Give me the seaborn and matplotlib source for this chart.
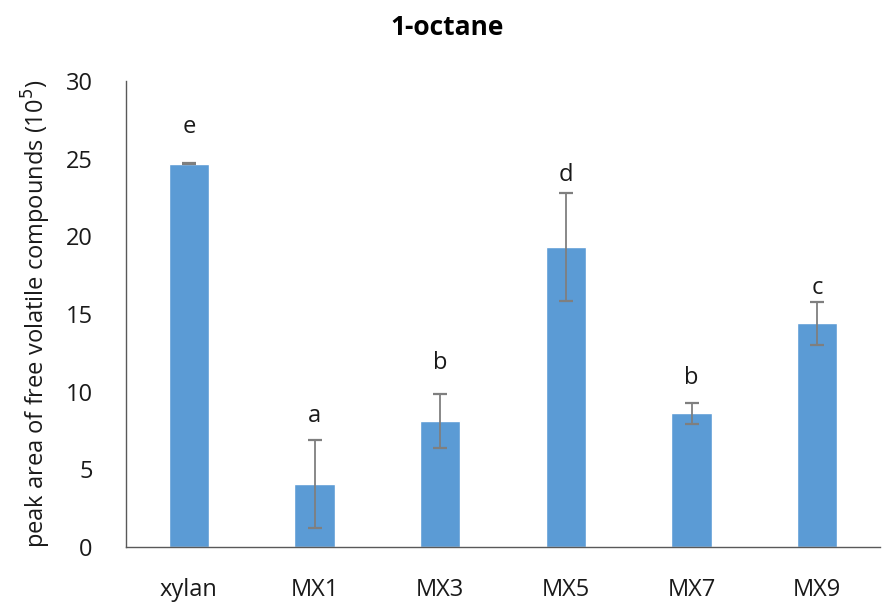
import matplotlib
matplotlib.use("Agg")
import matplotlib.pyplot as plt
import seaborn as sns
import pandas as pd
import numpy as np

categories = ["xylan", "MX1", "MX3", "MX5", "MX7", "MX9"]
values = [24.68, 4.07, 8.13, 19.32, 8.61, 14.40]
errors = [0.05, 2.84, 1.74, 3.49, 0.69, 1.39]
letters = ["e", "a", "b", "d", "b", "c"]
letter_offsets = [26, 17, 22, 13, 18, 10]  # points above error-bar top

sns.set_style("white")
plt.rcParams["font.family"] = ["Open Sans", "DejaVu Sans"]

df = pd.DataFrame({"cat": categories, "val": values})

fig = plt.figure(figsize=(8.83, 6.03), dpi=100)
ax = fig.add_axes([0.1427, 0.0929, 0.854, 0.7728])

sns.barplot(data=df, x="cat", y="val", color="#5B9BD5", width=0.32,
            saturation=1, errorbar=None, ax=ax)

x = np.arange(len(categories))
ax.errorbar(x, values, yerr=errors, fmt="none", ecolor="#7f7f7f",
            elinewidth=1.3, capsize=5, capthick=1.6, zorder=3)
for xi, v, e, l, off in zip(x, values, errors, letters, letter_offsets):
    ax.annotate(l, (xi, v + e), xytext=(0, off), textcoords="offset points",
                ha="center", va="center", fontsize=17, color="#1a1a1a")

ax.set_ylim(0, 30)
ax.set_xlim(-0.5, len(categories) - 0.5)
ax.set_yticks([0, 5, 10, 15, 20, 25, 30])
ax.tick_params(axis="y", length=0, labelsize=17, pad=24, labelcolor="#1a1a1a")
ax.tick_params(axis="x", length=0, labelsize=17, pad=22, labelcolor="#1a1a1a")
ax.set_xlabel("")
ax.set_ylabel("peak area of free volatile compounds (10$^5$)", fontsize=17,
              color="#1a1a1a", labelpad=9)
fig.text(0.506, 0.954, "1-octane", fontsize=19, fontweight="bold",
         ha="center", va="center", color="#000000")

for s in ["top", "right"]:
    ax.spines[s].set_visible(False)
for s in ["left", "bottom"]:
    ax.spines[s].set_color("#595959")
    ax.spines[s].set_linewidth(1.0)

fig.savefig("out.png", dpi=100)
